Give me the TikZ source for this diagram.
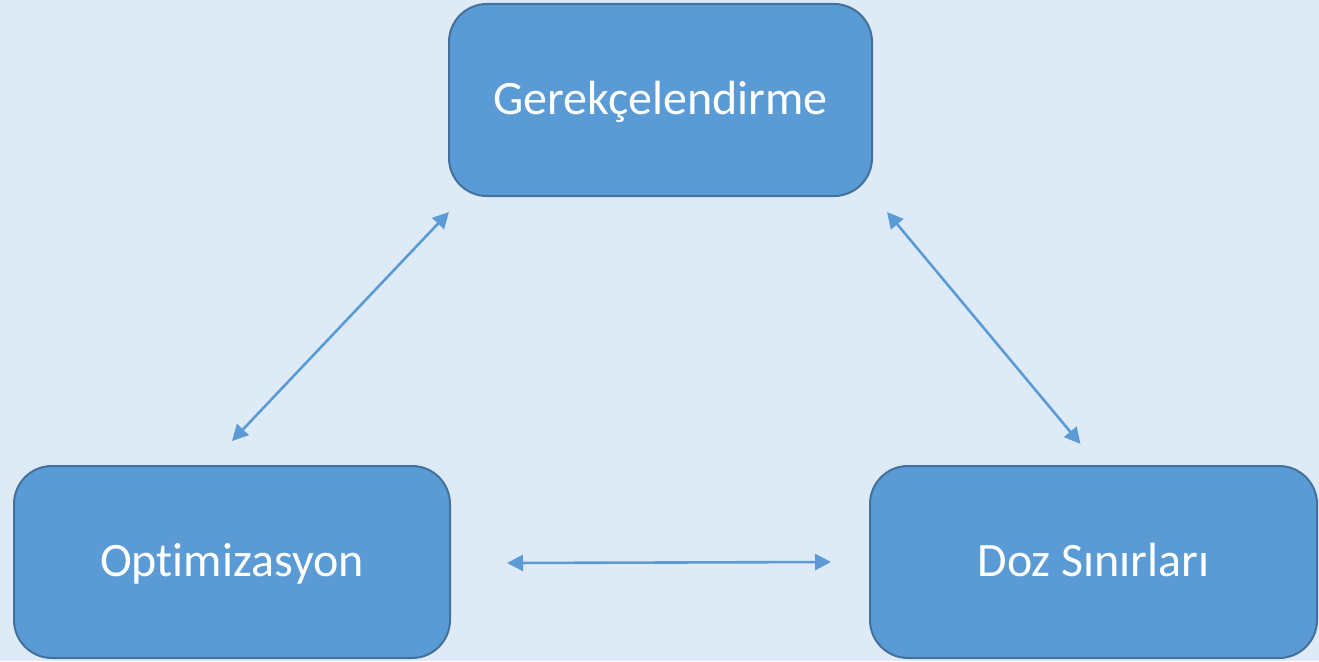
\documentclass[tikz,border=0pt]{standalone}
\usepackage{fontspec}
\setmainfont{Carlito}[Ligatures=NoCommon]
\usetikzlibrary{calc,arrows.meta}
\definecolor{bgc}{HTML}{DEEAF6}
\definecolor{boxfill}{HTML}{5B9BD5}
\definecolor{boxline}{HTML}{41719C}
\tikzset{
  stagebox/.style={draw=boxline, line width=2pt, fill=boxfill, rounded corners=38pt,
    minimum width=#1, minimum height=192pt, inner sep=0pt, text=white,
    text height=31pt, text depth=3pt,
    font=\fontsize{48}{58}\selectfont},
  conn/.style={draw=boxfill, line width=2.6pt, {Triangle[length=16pt,width=16pt]}-{Triangle[length=16pt,width=16pt]}}
}
\begin{document}
\begin{tikzpicture}[x=1pt,y=-1pt]
\fill[bgc] (0,0) rectangle (1319,661);
\useasboundingbox (0,0) rectangle (1319,661);
\node[stagebox=423pt] (top) at (660.5,100) {Gerekçelendirme};
\node[stagebox=436pt] (opt) at (232,562) {Optimizasyon};
\node[stagebox=447pt] (doz) at (1093.5,562) {Doz Sınırları};
\draw[conn] ($(opt.north)+(0,-24)$) -- ($(top.south west)+(1,15)$);
\draw[conn] ($(top.south east)+(14,15)$) -- ($(doz.north)+(-13,-21)$);
\draw[conn] ($(opt.east)+(56,1)$) -- ($(doz.west)+(-38,0)$);
\end{tikzpicture}
\end{document}
